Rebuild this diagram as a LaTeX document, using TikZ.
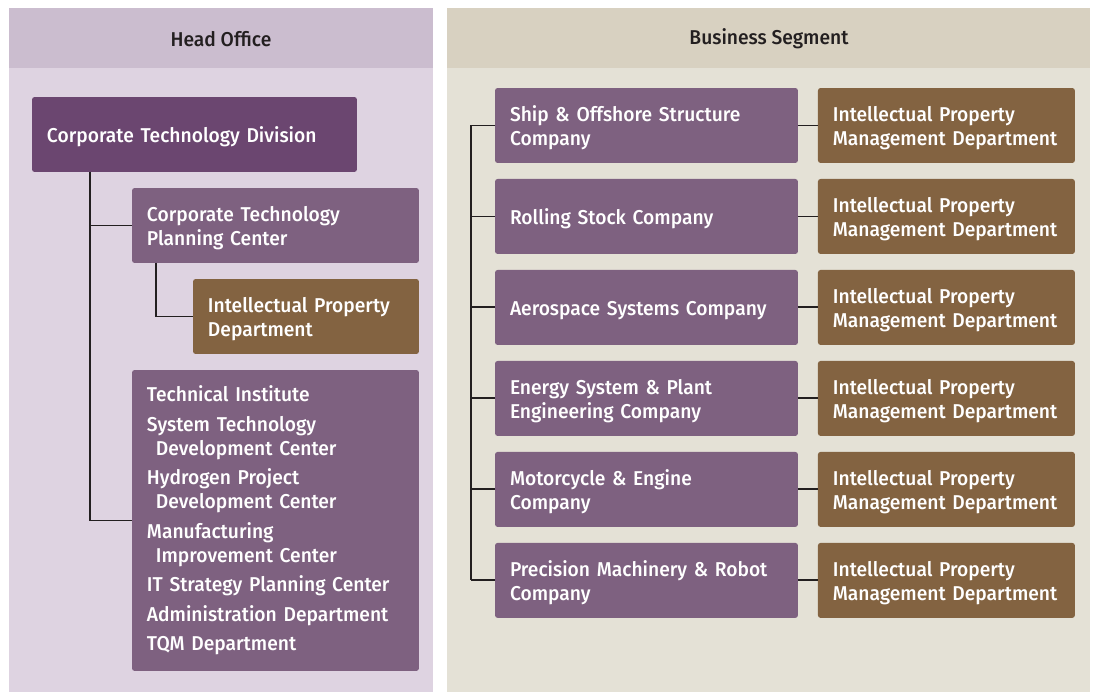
\documentclass[tikz,border=0pt]{standalone}
\usepackage{fontspec}
\setmainfont{Fira Sans}[UprightFont={* Medium}, FakeStretch=0.96]
\usetikzlibrary{positioning}
\definecolor{hoBar}{HTML}{CBBDCF}
\definecolor{hoBody}{HTML}{DED3E1}
\definecolor{bsBar}{HTML}{D8D1C1}
\definecolor{bsBody}{HTML}{E4E1D6}
\definecolor{divPurple}{HTML}{6B4670}
\definecolor{unitPurple}{HTML}{7E6180}
\definecolor{ipBrown}{HTML}{836341}
\definecolor{ink}{HTML}{231F20}
\newcommand{\wrapin}{\hspace*{0.18cm}}
\hyphenpenalty=10000

\begin{document}
\begin{tikzpicture}[x=0.02cm, y=-0.02cm, font=\fontsize{11.4}{13.7}\selectfont]
	\tikzstyle{panelbox}=[rectangle, rounded corners=1.5pt, text=white, align=left, anchor=north west, inner ysep=0pt, inner xsep=0.3cm, outer sep=0pt]
	\tikzstyle{box}=[panelbox, minimum height=1.5cm, execute at begin node={\rule{0pt}{11.6pt}}]
	\tikzstyle{division}=[box, fill=divPurple, minimum width=6.5cm, text width=5.9cm]
	\tikzstyle{unit}=[box, fill=unitPurple]
	\tikzstyle{ipdept}=[box, fill=ipBrown]
	\tikzstyle{company}=[unit, minimum width=6.06cm, text width=5.46cm, node distance=0.32cm]
	\tikzstyle{ipmgmt}=[ipdept, minimum width=5.14cm, text width=4.54cm]
	\tikzstyle{connect}=[draw=ink, line width=1.1pt]
	\tikzstyle{title}=[text=ink]
	\useasboundingbox (0,0) rectangle (1096,693);
	\fill[white] (0,0) rectangle (1096,693);
	% two panels with header bars
	\fill[hoBody] (9,8) rectangle (433,692);
	\fill[hoBar] (9,8) rectangle (433,68);
	\fill[bsBody] (447,8) rectangle (1090,692);
	\fill[bsBar] (447,8) rectangle (1090,68);
	\node[title] (head) at (221,39) {Head Office};
	\node[title] (segment) at (769,39) {Business Segment};

	% head office
	\node[division] (ctd) at (32,97) {Corporate Technology Division};
	\node[unit, minimum width=5.74cm, text width=5.14cm] (plan) at (132,188) {Corporate Technology\\Planning Center};
	\node[ipdept, minimum width=4.52cm, text width=3.92cm] (ipd) at (193,279) {Intellectual Property\\Department};
	\node[panelbox, fill=unitPurple, minimum width=5.74cm, text width=5.14cm, minimum height=6.02cm] (inst) at (132,370) {Technical Institute\\[3.1pt]
		System Technology\\\wrapin Development Center\\[3.1pt]
		Hydrogen Project\\\wrapin Development Center\\[3.1pt]
		Manufacturing\\\wrapin Improvement Center\\[3.1pt]
		IT Strategy Planning Center\\[3.1pt]
		Administration Department\\[3.1pt]
		TQM Department};
	\draw[connect] ([xshift=1.16cm]ctd.south west) |- (inst.west);
	\draw[connect] ([xshift=1.16cm]ctd.south west) |- (plan.west);
	\draw[connect] ([xshift=0.48cm]plan.south west) |- (ipd.west);

	% business segment
	\node[company] (ship) at (495,88) {Ship \& Offshore Structure\\Company};
	\node[company] (rail) [below=of ship.south west, anchor=north west] {Rolling Stock Company};
	\node[company] (aero) [below=of rail.south west, anchor=north west] {Aerospace Systems Company};
	\node[company] (energy) [below=of aero.south west, anchor=north west] {Energy System \& Plant\\Engineering Company};
	\node[company] (moto) [below=of energy.south west, anchor=north west] {Motorcycle \& Engine\\Company};
	\node[company] (robot) [below=of moto.south west, anchor=north west] {Precision Machinery \& Robot\\Company};
	\foreach \c in {ship,rail,aero,energy,moto,robot}{
		\node[ipmgmt] (ip\c) at ([xshift=0.4cm]\c.north east) {Intellectual Property\\Management Department};
		\path (\c.east) edge [connect] (ip\c.west);
		\draw[connect] (\c.west) -- ++(-24,0);
	}
	\draw[connect] ([xshift=-0.48cm]ship.west) -- ([xshift=-0.48cm]robot.west);
\end{tikzpicture}
\end{document}
